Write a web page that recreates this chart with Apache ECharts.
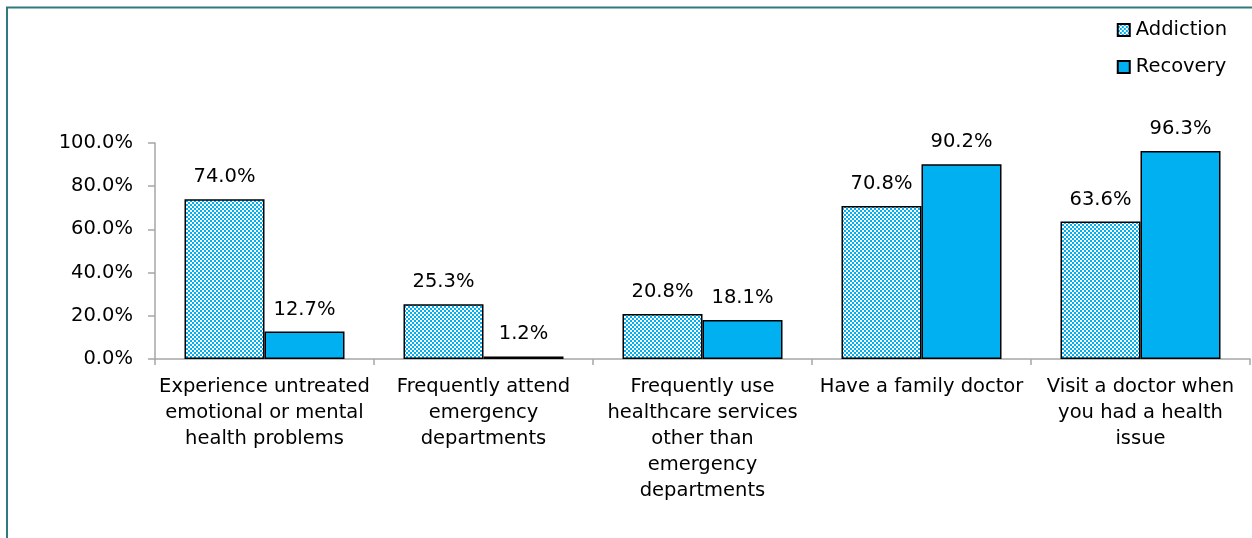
<!DOCTYPE html>
<html>
<head>
<meta charset="utf-8">
<style>
  html, body { margin: 0; padding: 0; background: #fff; }
  #chart { width: 1252px; height: 538px; }
</style>
<script src="https://cdn.jsdelivr.net/npm/echarts@6/dist/echarts.min.js"></script>
</head>
<body>
<div id="chart"></div>
<script>
// Health-service use: people in addiction vs. people in recovery (percent)
const categories = [
  'Experience untreated\nemotional or mental\nhealth problems',
  'Frequently attend\nemergency\ndepartments',
  'Frequently use\nhealthcare services\nother than\nemergency\ndepartments',
  'Have a family doctor',
  'Visit a doctor when\nyou had a health\nissue'
];
const addiction = [74.0, 25.3, 20.8, 70.8, 63.6];
const recovery = [12.7, 1.2, 18.1, 90.2, 96.3];
const yTicks = { min: 0, max: 100, interval: 20 };

const BLUE = '#00B0F0';
const FONT = 'DejaVu Sans';
const FS = 19.5;

// small checkerboard tile for the "Addiction" fill
function checkerTile() {
  const c = document.createElement('canvas');
  c.width = 4; c.height = 4;
  const g = c.getContext('2d');
  g.fillStyle = BLUE; g.fillRect(0, 0, 4, 4);
  g.fillStyle = '#ffffff';
  g.fillRect(0, 0, 2, 2);
  g.fillRect(2, 2, 2, 2);
  return c;
}

const chart = echarts.init(document.getElementById('chart'), null, { renderer: 'canvas' });

const labelStyle = {
  show: true,
  position: 'top',
  distance: 12,
  color: '#000',
  fontFamily: FONT,
  fontSize: FS,
  formatter: p => p.value.toFixed(1) + '%'
};

chart.setOption({
  animation: false,
  backgroundColor: '#fff',
  textStyle: { fontFamily: FONT },
  graphic: [{
    type: 'polyline',
    shape: { points: [[7, 538], [7, 7.5], [1252, 7.5]] },
    style: { stroke: '#2F7A7F', lineWidth: 2, fill: null },
    silent: true
  }],
  legend: {
    orient: 'vertical',
    right: 20,
    top: 15,
    itemWidth: 12,
    itemHeight: 12,
    itemGap: 17,
    icon: 'rect',
    textStyle: { fontFamily: FONT, fontSize: FS, color: '#000', padding: [0, 0, 0, 1] },
    data: ['Addiction', 'Recovery']
  },
  grid: { left: 155, right: 2, top: 143, bottom: 179, containLabel: false },
  xAxis: {
    type: 'category',
    data: categories,
    axisLine: { lineStyle: { color: '#A6A6A6', width: 1.5 } },
    axisTick: { show: true, length: 6, lineStyle: { color: '#A6A6A6', width: 1.5 } },
    axisLabel: {
      interval: 0,
      margin: 15,
      color: '#000',
      fontFamily: FONT,
      fontSize: FS,
      lineHeight: 26,
      align: 'center'
    }
  },
  yAxis: {
    type: 'value',
    min: yTicks.min,
    max: yTicks.max,
    interval: yTicks.interval,
    splitLine: { show: false },
    axisLine: { show: true, lineStyle: { color: '#A6A6A6', width: 1.5 } },
    axisTick: { show: true, length: 7, lineStyle: { color: '#A6A6A6', width: 1.5 } },
    axisLabel: {
      margin: 22,
      color: '#000',
      fontFamily: FONT,
      fontSize: FS,
      formatter: v => v.toFixed(1) + '%'
    }
  },
  series: [
    {
      name: 'Addiction',
      type: 'bar',
      data: addiction,
      barWidth: 80,
      barGap: '0%',
      itemStyle: {
        color: { image: checkerTile(), repeat: 'repeat' },
        borderColor: '#000',
        borderWidth: 1.5
      },
      label: labelStyle
    },
    {
      name: 'Recovery',
      type: 'bar',
      data: recovery,
      barWidth: 80,
      barGap: '0%',
      itemStyle: { color: BLUE, borderColor: '#000', borderWidth: 1.5 },
      label: labelStyle
    }
  ]
});
</script>
</body>
</html>
